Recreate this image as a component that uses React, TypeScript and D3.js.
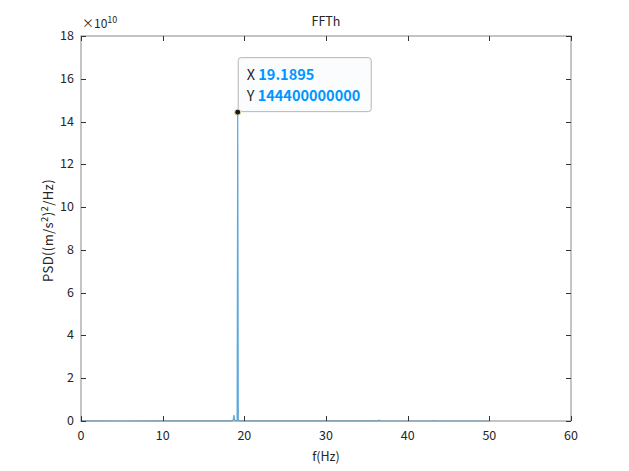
import { useEffect, useRef } from "react";
import * as d3 from "d3";

// spectrum samples (Hz, PSD)
const freq = [0, 5, 10, 15, 18.5, 18.65, 18.72, 18.8, 19.0, 19.12, 19.1895, 19.26, 19.4, 25, 30, 36.4, 36.5, 36.6, 40, 43.1, 43.2, 43.3, 47, 50];
const psd = [2e7, 1e7, 1.5e7, 2e7, 4e7, 6e8, 2.8e9, 5e8, 9e7, 3e8, 1.444e11, 4e8, 8e7, 3e7, 2e7, 2e7, 4e8, 2e7, 1e7, 1e7, 2.5e8, 1e7, 1e7, 5e6];
const xTicks = [0, 10, 20, 30, 40, 50, 60];
const yTicks = [0, 2, 4, 6, 8, 10, 12, 14, 16, 18];
const tip = { x: 19.1895, y: 144400000000 };

const W = 629;
const H = 471;
const margin = { top: 36, right: 58, bottom: 50, left: 81 };
const font = "'Noto Sans CJK JP', 'Liberation Sans', sans-serif";

export default function App() {
  const ref = useRef<SVGSVGElement>(null);

  useEffect(() => {
    const svg = d3.select(ref.current!);
    svg.selectAll("*").remove();
    const iw = W - margin.left - margin.right;
    const ih = H - margin.top - margin.bottom;

    const x = d3.scaleLinear().domain([0, 60]).range([0, iw]);
    const y = d3.scaleLinear().domain([0, 18]).range([ih, 0]);
    const scale = 1e10;

    const g = svg.append("g").attr("transform", `translate(${margin.left},${margin.top})`);

    // data line
    const data = freq.map((f, i) => [f, psd[i] / scale] as [number, number]);
    g.append("path")
      .datum(data)
      .attr("fill", "none")
      .attr("stroke", "#5aa8dc")
      .attr("stroke-width", 1.2)
      .attr("d", d3.line<[number, number]>().x((d) => x(d[0])).y((d) => y(d[1])));

    // box
    g.append("rect")
      .attr("width", iw)
      .attr("height", ih)
      .attr("fill", "none")
      .attr("stroke", "#8a8a8a")
      .attr("stroke-width", 1);

    const tickLen = 5;
    xTicks.forEach((t) => {
      const px = Math.round(x(t)) + 0.5;
      g.append("line").attr("x1", px).attr("x2", px).attr("y1", ih).attr("y2", ih - tickLen).attr("stroke", "#333");
      g.append("line").attr("x1", px).attr("x2", px).attr("y1", 0).attr("y2", tickLen).attr("stroke", "#333");
      g.append("text")
        .attr("x", x(t))
        .attr("y", ih + 19)
        .attr("text-anchor", "middle")
        .attr("font-size", 12.5)
        .attr("fill", "#262626")
        .text(t);
    });
    yTicks.forEach((t) => {
      const py = Math.round(y(t)) + 0.5;
      g.append("line").attr("x1", 0).attr("x2", tickLen).attr("y1", py).attr("y2", py).attr("stroke", "#333");
      g.append("line").attr("x1", iw).attr("x2", iw - tickLen).attr("y1", py).attr("y2", py).attr("stroke", "#333");
      g.append("text")
        .attr("x", -7)
        .attr("y", y(t) + 4)
        .attr("text-anchor", "end")
        .attr("font-size", 12.5)
        .attr("fill", "#262626")
        .text(t);
    });

    // exponent
    const ex = g.append("text").attr("x", 1).attr("y", -8).attr("font-size", 12).attr("fill", "#262626");
    ex.append("tspan").text("×10");
    ex.append("tspan").attr("dy", -5).attr("font-size", 9).text("10");

    // title
    svg.append("text")
      .attr("x", margin.left + iw / 2)
      .attr("y", 26)
      .attr("text-anchor", "middle")
      .attr("font-size", 12.5)
      .attr("fill", "#262626")
      .text("FFTh");

    // axis labels
    svg.append("text")
      .attr("x", margin.left + iw / 2)
      .attr("y", 461)
      .attr("text-anchor", "middle")
      .attr("font-size", 12.5)
      .attr("fill", "#262626")
      .text("f(Hz)");

    const yl = svg.append("text")
      .attr("transform", `translate(53,${margin.top + ih / 2 + 2}) rotate(-90)`)
      .attr("text-anchor", "middle")
      .attr("font-size", 13)
      .attr("letter-spacing", 0.4)
      .attr("fill", "#262626");
    yl.append("tspan").text("PSD((m/s");
    yl.append("tspan").attr("dy", -5).attr("font-size", 9.5).text("2");
    yl.append("tspan").attr("dy", 5).text(")");
    yl.append("tspan").attr("dy", -5).attr("font-size", 9.5).text("2");
    yl.append("tspan").attr("dy", 5).text("/Hz)");

    // datatip
    const tx = x(tip.x);
    const ty = y(tip.y / scale);
    const box = g.append("g").attr("transform", `translate(${tx},${ty - 55})`);
    box.append("rect")
      .attr("x", 0.5)
      .attr("y", 0.5)
      .attr("width", 133)
      .attr("height", 54)
      .attr("rx", 3)
      .attr("fill", "#fbfcfe")
      .attr("stroke", "#b5b5b5");
    const l1 = box.append("text").attr("x", 9).attr("y", 23).attr("font-size", 14.5);
    l1.append("tspan").attr("fill", "#262626").text("X ");
    l1.append("tspan").attr("fill", "#0096ff").attr("font-weight", "bold").text(tip.x.toString());
    const l2 = box.append("text").attr("x", 9).attr("y", 44).attr("font-size", 14.5);
    l2.append("tspan").attr("fill", "#262626").text("Y ");
    l2.append("tspan").attr("fill", "#0096ff").attr("font-weight", "bold").text(tip.y.toString());
    g.append("circle")
      .attr("cx", tx)
      .attr("cy", ty)
      .attr("r", 3)
      .attr("fill", "#1a1a1a")
      .attr("stroke", "#e8e0a0")
      .attr("stroke-width", 1);
  }, []);

  return (
    <svg
      ref={ref}
      width={W}
      height={H}
      style={{ position: "absolute", left: 0, top: 0, fontFamily: font, background: "#fff" }}
    />
  );
}
